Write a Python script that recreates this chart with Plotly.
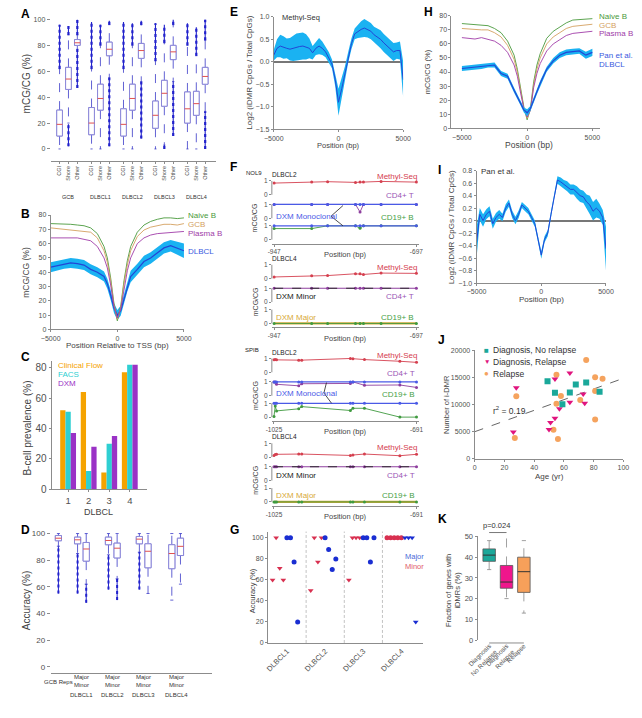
import plotly.graph_objects as go

W, H = 642, 718
FONT = "Liberation Sans, Arial, sans-serif"
TICK = "#505050"
AXC = "#8c8c8c"

# ================= DATA =================
# --- A: mCG/CG by region (box summaries) ---
A_groups = ["GCB", "DLBCL1", "DLBCL2", "DLBCL3", "DLBCL4"]
A_regions = ["CGI", "Shore", "Other"]
A_q1 = [10, 46, 80, 11, 30, 72, 10, 30, 70, 16, 33, 69, 20, 26, 50]
A_med = [19, 54, 82, 20, 39, 77, 19, 39, 76, 26, 43, 75, 31, 35, 56]
A_q3 = [30, 63, 84.5, 32, 50, 82.5, 31, 50, 81.5, 37, 53, 80, 44, 44.5, 63]
A_lo = [0, 20, 77, 0, 0, 55, 0, 0, 52, 0, 3, 52, 0, 0, 29]
A_hi = [62, 88, 88, 62, 80, 96, 62, 80, 96, 68, 82, 96, 80, 72, 84]
A_out_lo_min = [None, 2, 47, None, None, 2, None, None, 8, None, 0, 10, None, None, 0]
A_out_lo_max = [None, 19, 77, None, None, 55, None, None, 52, None, 3, 52, None, None, 29]
A_out_hi_min = [62, 88, 88, 62, 80, 96, 62, 80, 96, 68, 82, 96, 80, 72, 84]
A_out_hi_max = [96, 95, 100, 98, 96, 99, 98, 97, 99, 97, 96, 100, 97, 94, 100]

# --- B: metaplot around TSS ---
B_pos = [-5000, -4500, -4000, -3500, -3000, -2500, -2000, -1500, -1000, -750, -500, -250, 0,
         250, 500, 750, 1000, 1500, 2000, 2500, 3000, 3500, 4000, 4500, 5000]
B_naive = [74, 74, 73.5, 73.5, 73, 72.5, 71, 67, 58, 50, 36, 18, 6, 16, 34, 48, 58, 68, 73, 75.5, 77, 78, 78, 77.5, 78]
B_gcb = [71, 70.5, 70.5, 70, 69.5, 69, 68, 64, 55, 47, 34, 17, 7, 15, 32, 45, 55, 65, 69.5, 71.5, 72.5, 73.5, 73.5, 73, 74]
B_plasma = [64, 64, 63.5, 64, 64, 63, 62, 58, 50, 43, 31, 16, 8, 14, 29, 41, 50, 60, 64, 66, 67, 67.5, 68, 68, 68.5]
B_dlbcl = [43.5, 44.5, 46, 46.5, 46, 45, 42, 40, 37, 32, 24, 15, 10, 13, 21, 30, 37, 42, 47.5, 50, 53.5, 57, 58.5, 57, 55]
B_err = [3.5, 3.5, 3.5, 3.5, 3.5, 3.5, 3.5, 3.5, 3.5, 3.5, 3.5, 3.5, 3.5, 3.5, 3.5, 3.5, 4, 4, 4, 4, 4, 4, 4, 4.5, 5]

# --- C: B-cell prevalence ---
C_cats = [1, 2, 3, 4]
C_clinical = [52, 64, 11, 77]
C_facs = [51, 12, 30, 82]
C_dxm = [37, 28, 35, 82]

# --- D: accuracy boxes ---
D_labels = ["GCB Reps", "DLBCL1", "DLBCL2", "DLBCL3", "DLBCL4"]
D_q1 = [94.6, 92.3, 79.3, 91.6, 81.7, 92.3, 74.3, 73.6, 83.5]
D_med = [96.5, 95.3, 88.4, 94.8, 89, 95.8, 86.7, 85, 90.4]
D_q3 = [98.5, 97.3, 93.3, 97.3, 92.8, 97.8, 92.3, 91.6, 96.5]
D_lo = [90.5, 85, 62, 84, 66, 86, 55, 50, 62]
D_hi = [100, 100, 100, 100, 100, 100, 100, 100, 100]
D_out_min = [55, 55, 48, 58, 50, 58, None, None, None]
D_out_max = [90.5, 85, 62, 84, 66, 86, None, None, None]

# --- E: Methyl-Seq iDMR enrichment ---
E_pos = [-5000 + 250 * i for i in range(41)]
E_mean = [0.15, 0.30, 0.35, 0.32, 0.30, 0.28, 0.30, 0.33, 0.34, 0.35, 0.33, 0.30, 0.20, 0.30, 0.35, 0.30,
          0.22, 0.10, -0.05, -0.40, -0.90, -0.60, -0.25, 0.10, 0.40, 0.62, 0.68, 0.72, 0.75, 0.72, 0.68,
          0.60, 0.55, 0.50, 0.42, 0.35, 0.28, 0.22, 0.25, 0.25, -0.40]
E_err = [0.12, 0.20, 0.25, 0.25, 0.22, 0.25, 0.28, 0.30, 0.30, 0.30, 0.28, 0.22, 0.15, 0.15, 0.18, 0.15,
         0.12, 0.12, 0.10, 0.15, 0.30, 0.25, 0.15, 0.12, 0.12, 0.12, 0.15, 0.18, 0.20, 0.18, 0.18, 0.18,
         0.18, 0.20, 0.20, 0.20, 0.20, 0.20, 0.18, 0.20, 0.40]

# --- F: locus-level methylation ---
F_nol9_pos = [-947, -881, -853, -804, -796, -790, -759, -697]
F1_methyl = [0.85, 0.92, 0.95, 0.90, 0.92, 0.92, 0.97, 0.92]
F1_cd4 = [1, 1, 1, 1, 0.45, 1, 1, 1]
F1_cd19 = [0.8, 0.8, 1, 1, 0.82, 1, 1, 1]
F1_dxm = [1, 1, 1, 1, 1, 1, 1, 1]
F2_methyl = [0.12, 0.20, 0.22, 0.35, 0.35, 0.30, 0.40, 0.38]
F2_cd4 = [1, 1, 1, 1, 1, 1, 1, 1]
F2_cd19 = [0, 0, 0, 0, 0, 0, 0, 0]
F2_minor = [1, 1, 1, 1, 1, 1, 1, 1]
F2_major = [0, 0, 0, 0, 0, 0, 0, 0]
F_spib_pos = [-1025, -1022, -1019, -967, -960, -846, -840, -813, -730, -691]
F3_methyl = [0.9, 0.92, 0.9, 0.88, 0.88, 1.0, 0.98, 0.92, 0.8, 0.72]
F3_cd4 = [1, 1, 0.83, 0.72, 0.87, 0.89, 1, 0.76, 0.78, 0.6]
F3_cd19 = [0.05, 0.8, 0.45, 0.6, 0.76, 0.48, 0.64, 0.64, 0, 0]
F3_dxm = [1, 1, 1, 1, 1, 1, 1, 1, 1, 1]
F4_methyl = [0.12, 0.18, 0.2, 0.22, 0.22, 0.12, 0.15, 0.22, 0.1, 0.2]
F4_cd4 = [1, 1, 1, 1, 1, 1, 1, 1, 1, 1]
F4_cd19 = [0, 0, 0, 0, 0, 0, 0, 0, 0, 0]
F4_minor = [1, 1, 1, 1, 1, 1, 1, 1, 1, 1]
F4_major = [0, 0, 0, 0, 0, 0, 0, 0, 0, 0]

# --- G: accuracy per clone ---
G_groups = ["DLBCL1", "DLBCL2", "DLBCL3", "DLBCL4"]
G_group = [0] * 8 + [1] * 8 + [2] * 8 + [3] * 9
G_slot = [0, 1, 2, 3, 4, 5, 6, 7] * 3 + [0, 1, 2, 3, 4, 5, 6, 7, 8]
G_acc = [60, 100, 71, 60, 100, 100, 77, 20,
         50, 100, 77, 100, 100, 89, 70, 80,
         60, 100, 100, 100, 100, 100, 77, 100,
         100, 100, 100, 100, 100, 100, 100, 100, 20]
G_class = (["Minor"] * 4 + ["Major"] * 4) * 3 + ["Minor"] * 5 + ["Major"] * 4
G_shape = (["tri"] * 4 + ["dot"] * 4) * 3 + ["dot"] * 5 + ["tri"] * 4

# --- H: Pan et al. metaplot ---
H_pos = B_pos
H_naive = [74.5, 74, 74, 73.5, 73, 71, 68, 62, 52, 42, 29, 15, 6, 14, 33, 45, 53, 64, 69, 72, 75, 77, 77.5, 77.5, 78]
H_gcb = [71, 70.5, 70.5, 70, 70, 68, 65, 59, 49, 40, 27, 14, 7, 13, 31, 42, 50, 60, 65, 68, 71, 72.5, 73, 73.5, 74]
H_plasma = [64.5, 64, 63.5, 64.5, 63.5, 62, 59, 54, 45, 37, 25, 14, 8, 13, 29, 39, 46, 55, 60, 63, 66, 67.5, 68, 68.5, 69]
H_pan = [42.5, 43, 43.5, 44, 45, 45, 39, 37, 27, 22, 18, 13, 11, 14, 20, 26, 32, 42, 48, 52, 54, 54.5, 55, 52, 54]
H_err = [1.8, 1.8, 1.8, 1.8, 1.8, 1.8, 1.8, 1.8, 1.8, 1.8, 1.8, 1.8, 2.5, 1.8, 1.8, 1.8, 1.8, 1.8, 2, 2, 2, 2, 2, 2.5, 2.5]

# --- I: Pan et al. iDMR enrichment ---
I_pos = E_pos
I_mean = [-0.35, 0.10, 0.00, 0.10, 0.15, -0.05, 0.05, 0.10, 0.05, 0.20, 0.28, 0.10, 0.00, 0.10, 0.25, 0.20,
          0.15, 0.05, -0.05, -0.30, -0.55, -0.30, -0.20, 0.10, 0.40, 0.65, 0.62, 0.58, 0.55, 0.50, 0.50,
          0.45, 0.40, 0.38, 0.30, 0.25, 0.15, 0.20, 0.15, 0.05, -0.45]
I_err = [0.25, 0.1, 0.1, 0.08, 0.08, 0.08, 0.07, 0.07, 0.06, 0.06, 0.06, 0.06, 0.06, 0.06, 0.05, 0.05,
         0.05, 0.05, 0.05, 0.05, 0.06, 0.05, 0.05, 0.05, 0.05, 0.06, 0.07, 0.07, 0.08, 0.08, 0.08,
         0.1, 0.1, 0.1, 0.12, 0.15, 0.15, 0.15, 0.12, 0.12, 0.35]

# --- J: iDMR count vs age ---
J_nr_age = [49, 54, 59, 64, 68, 75, 84]
J_nr_n = [14250, 12140, 10030, 12200, 13650, 14010, 12320]
J_dr_age = [26, 28, 50, 51, 54, 54, 57, 64, 64, 73, 74]
J_dr_n = [4890, 13050, 5380, 6640, 7430, 14680, 9180, 15760, 10390, 11900, 10210]
J_r_age = [27, 28, 53, 55, 55, 56, 58, 71, 75, 81, 81, 81, 86]
J_r_n = [3800, 11480, 5320, 15460, 10090, 3620, 11540, 10810, 18180, 14980, 12440, 7190, 14740]
J_fit = [4950, 98.5]  # intercept, slope
J_r2 = 0.19
J_yticks = [0, 5000, 10000, 15000, 20000]

# --- K: fraction of genes with iDMRs ---
K_cats = ["Diagnosis<br>No Relapse", "Diagnosis<br>Relapse", "Relapse"]
K_q1 = [38, 25, 23]
K_med = [41, 28, 33]
K_q3 = [44, 36, 40]
K_lo = [34, 20, 13]
K_hi = [48, 52, 48]
K_p = "p=0.024"

# ================= HELPERS =================
traces = []
ann = []
shapes = []
axes = {}


def ax_common():
    return dict(showgrid=False, zeroline=False, linecolor=AXC, linewidth=1,
                tickfont=dict(size=7, color=TICK, family=FONT), ticks="outside",
                ticklen=2, tickcolor=AXC, showline=True, fixedrange=True)


def set_axes(n, xpx, ypx, xr, yr, xkw=None, ykw=None):
    sx = "" if n == 1 else str(n)
    xa = ax_common()
    xa.update(domain=[xpx[0] / W, xpx[1] / W], range=xr, anchor="y" + sx)
    ya = ax_common()
    ya.update(domain=[1 - ypx[1] / H, 1 - ypx[0] / H], range=yr, anchor="x" + sx)
    if xkw:
        xa.update(xkw)
    if ykw:
        ya.update(ykw)
    axes["xaxis" + sx] = xa
    axes["yaxis" + sx] = ya
    return "x" + sx, "y" + sx


def T(x, y, s, size=8, color="#333333", xa="left", ya="middle", angle=0, bold=False,
      xref="paper", yref="paper"):
    if xref == "paper":
        x = x / W
    if yref == "paper":
        y = 1 - y / H
    ann.append(dict(x=x, y=y, xref=xref, yref=yref, text=("<b>%s</b>" % s) if bold else s,
                    showarrow=False, xanchor=xa, yanchor=ya, textangle=angle,
                    font=dict(size=size, color=color, family=FONT)))


def line(xa, ya, x, y, color, width=1, dash="solid", mode="lines", msize=3, symbol="circle", fill=None,
         fillcolor=None):
    traces.append(go.Scatter(x=x, y=y, xaxis=xa, yaxis=ya, mode=mode,
                             line=dict(color=color, width=width, dash=dash),
                             marker=dict(size=msize, color=color, symbol=symbol),
                             fill=fill, fillcolor=fillcolor, hoverinfo="skip", showlegend=False))


def band(xa, ya, pos, mean, err, fillc, linec, lw=1):
    up = [m + e for m, e in zip(mean, err)]
    dn = [m - e for m, e in zip(mean, err)]
    traces.append(go.Scatter(x=list(pos) + list(pos)[::-1], y=up + dn[::-1], xaxis=xa, yaxis=ya,
                             mode="lines", line=dict(width=0, color=fillc), fill="toself",
                             fillcolor=fillc, hoverinfo="skip", showlegend=False))
    line(xa, ya, pos, mean, linec, lw)


def boxes(xa, ya, pos, q1, med, q3, lo, hi, hw, cap, box_c, med_c, wh_c, fillc="white", bw=1):
    bx, by, mx, my, wx, wy, cx, cy = [], [], [], [], [], [], [], []
    for p, a, m, b, l, h in zip(pos, q1, med, q3, lo, hi):
        bx += [p - hw, p + hw, p + hw, p - hw, p - hw, None]
        by += [a, a, b, b, a, None]
        mx += [p - hw, p + hw, None]
        my += [m, m, None]
        wx += [p, p, None, p, p, None]
        wy += [b, h, None, a, l, None]
        cx += [p - cap, p + cap, None, p - cap, p + cap, None]
        cy += [h, h, None, l, l, None]
    line(xa, ya, wx, wy, wh_c, 0.8, "dash")
    line(xa, ya, cx, cy, wh_c, 0.8)
    line(xa, ya, bx, by, box_c, bw, fill="toself", fillcolor=fillc)
    line(xa, ya, mx, my, med_c, 1)


def outliers(xa, ya, pos, omin, omax, color, width=2.2):
    ox, oy = [], []
    for p, a, b in zip(pos, omin, omax):
        if a is None:
            continue
        ox += [p, p, None]
        oy += [a, b, None]
    line(xa, ya, ox, oy, color, width, "dot")
    line(xa, ya, ox, oy, color, width * 0.5)


LETTER = 12
# ================= PANEL A =================
A_pos = [g * 3.6 + r for g in range(len(A_groups)) for r in range(len(A_regions))]
xa, ya = set_axes(1, (38, 209), (15.7, 159), [-1, 17.6], [-9.14, 100],
                  dict(tickvals=A_pos, ticktext=A_regions * len(A_groups), tickangle=-90,
                       tickfont=dict(size=5.5, color=TICK, family=FONT), ticklen=2),
                  dict(showline=False, tickvals=[0, 20, 40, 60, 80, 100], ticklen=3))
boxes(xa, ya, A_pos, A_q1, A_med, A_q3, A_lo, A_hi, 0.32, 0.12, "#8a86d8", "#e05050", "#3a3ac8")
outliers(xa, ya, A_pos, A_out_lo_min, A_out_lo_max, "#2222cc")
outliers(xa, ya, A_pos, A_out_hi_min, A_out_hi_max, "#2222cc")
boxes(xa, ya, A_pos, A_q1, A_med, A_q3, A_q1, A_q3, 0.32, 0.0, "#8a86d8", "#e05050", "#8a86d8")
for g, name in enumerate(A_groups):
    T(g * 3.6 + 1, 196, name, 5.5, "#333", "center", xref=xa)
T(5, 10, "A", LETTER, "black", bold=True)
T(13, 81, "mCG/CG (%)", 10, "#444", "center", "middle", -90)

# ================= PANEL B =================
xa, ya = set_axes(2, (38, 176), (214, 330), [-5000, 5000], [0, 80],
                  dict(tickvals=[-5000, 0, 5000]),
                  dict(tickvals=list(range(0, 81, 10))))
band(xa, ya, B_pos, B_dlbcl, B_err, "#1ab2f2", "#2346d6", 1.2)
line(xa, ya, B_pos, B_naive, "#4a9a3c", 0.9)
line(xa, ya, B_pos, B_gcb, "#d4a060", 0.9)
line(xa, ya, B_pos, B_plasma, "#a03ca8", 0.9)
T(178, 214, "Naive B", 8, "#4a9a3c")
T(178, 224, "GCB", 8, "#d4a060")
T(178, 233, "Plasma B", 8, "#a03ca8")
T(178, 251, "DLBCL", 8, "#3a5ae0")
T(5, 213, "B", LETTER, "black", bold=True)
T(13, 272, "mCG/CG (%)", 8.5, "#444", "center", "middle", -90)
T(107, 346, "Position Relative to TSS (bp)", 8, "#444", "center")

# ================= PANEL C =================
xa, ya = set_axes(3, (39, 138), (362, 492), [0.2, 4.85], [0, 84.5],
                  dict(tickvals=C_cats, tickfont=dict(size=9.5, color=TICK, family=FONT)),
                  dict(tickvals=[0, 20, 40, 60, 80], tickfont=dict(size=10, color=TICK, family=FONT)))
for vals, col in [(C_clinical, "#f5a300"), (C_facs, "#2ecfd2"), (C_dxm, "#9a32c6")]:
    traces.append(go.Bar(x=C_cats, y=vals, xaxis=xa, yaxis=ya, marker=dict(color=col, line=dict(width=0)),
                         hoverinfo="skip", showlegend=False))
T(44, 367, "Clinical Flow", 8, "#f5a300")
T(44, 376, "FACS", 8, "#2ecfd2")
T(44, 385, "DXM", 8, "#9a32c6")
T(5, 358, "C", LETTER, "black", bold=True)
T(13, 430, "B-cell prevalence (%)", 10, "#444", "center", "middle", -90)
T(88, 515, "DLBCL", 9, "#444", "center")

# ================= PANEL D =================
D_centers = [1.44, 2.2, 3.2, 4.2, 5.25]
D_pos = [D_centers[0]] + [c + d for c in D_centers[1:] for d in (-0.14, 0.14)]
xa, ya = set_axes(4, (38, 205), (535, 678), [1.19, 6.41], [-4.4, 101.5],
                  dict(showticklabels=False, ticks=""),
                  dict(showline=False, tickvals=[0, 20, 40, 60, 80, 100], ticklen=3,
                       tickfont=dict(size=8, color=TICK, family=FONT)))
boxes(xa, ya, D_pos, D_q1, D_med, D_q3, D_lo, D_hi, 0.1, 0.05, "#8a86d8", "#e05050", "#3a3ac8")
outliers(xa, ya, D_pos, D_out_min, D_out_max, "#2222cc", 2)
boxes(xa, ya, D_pos, D_q1, D_med, D_q3, D_q1, D_q3, 0.1, 0.0, "#8a86d8", "#e05050", "#8a86d8")
T(D_centers[0], 688, D_labels[0], 6, "#333", "center", xref=xa)
for c, name in zip(D_centers[1:], D_labels[1:]):
    T(c, 687, "Major<br>Minor", 6, "#333", "center", xref=xa)
    T(c, 701, name, 6, "#333", "center", xref=xa)
T(5, 533, "D", LETTER, "black", bold=True)
T(13, 605, "Accuracy (%)", 10, "#444", "center", "middle", -90)

# ================= PANEL E =================
xa, ya = set_axes(5, (269, 403), (13, 127), [-5000, 5000], [-1.5, 1.0],
                  dict(tickvals=[-5000, 0, 5000]),
                  dict(tickvals=[-1.5, -1.0, -0.5, 0, 0.5, 1.0], tickformat=".1f",
                       zeroline=True, zerolinecolor="#777", zerolinewidth=1.5))
band(xa, ya, E_pos, E_mean, E_err, "#1ab2f2", "#2346d6", 1.0)
T(275, 14, "Methyl-Seq", 7.5, "#333")
T(222, 8, "E", LETTER, "black", bold=True)
T(243, 70, "Log2 (iDMR CpGs / Total CpGs)", 8, "#444", "center", "middle", -90)
T(336, 144, "Position (bp)", 7.5, "#444", "center")

# ================= PANEL F =================
F_OFF = [3.25, 1.55, 0.0]
RED, PUR, GRN, BLU, GOLD = "#d5404f", "#8e3f9e", "#3f9a3f", "#4a5ae6", "#d8a93a"


def f_panel(n, base, pos, xr, methyl, cd4, cd19, mode, dxm_a, dxm_b, title, mlab_px):
    xa, ya = set_axes(n, (267, 419), (base - 63, base + 4), xr, [-0.29, 4.5],
                      dict(tickvals=[pos[0], pos[-1]], ticktext=[str(pos[0]), str(pos[-1])],
                           tickfont=dict(size=6.5, color=TICK, family=FONT), ticklen=2),
                      dict(showline=False, tickvals=[0, 1, F_OFF[1], F_OFF[1] + 1, F_OFF[0], F_OFF[0] + 1],
                           ticktext=["0", "1", "0", "1", "0", "1"], ticklen=2,
                           tickfont=dict(size=6.5, color=TICK, family=FONT)))
    for o in F_OFF:
        shapes.append(dict(type="line", xref=xa + " domain", yref=ya, x0=0, x1=0, y0=o, y1=o + 1,
                           line=dict(color=AXC, width=1)))
    line(xa, ya, pos, [v + F_OFF[0] for v in methyl], RED, 0.9, mode="lines+markers")
    if mode == "mono":
        line(xa, ya, pos, [v + F_OFF[1] for v in cd4], PUR, 0.9, mode="lines+markers")
        line(xa, ya, pos, [v + F_OFF[2] for v in cd19], GRN, 0.9, mode="lines+markers")
        line(xa, ya, pos, [v + F_OFF[1] for v in dxm_a], BLU, 1.3, mode="lines+markers")
        line(xa, ya, pos, [v + F_OFF[2] for v in dxm_a], BLU, 1.3, mode="lines+markers")
    else:
        line(xa, ya, pos, [v + F_OFF[1] for v in cd4], PUR, 1.2, mode="lines+markers")
        line(xa, ya, pos, [v + F_OFF[1] for v in dxm_a], "#222222", 0.9, "dash")
        line(xa, ya, pos, [v + F_OFF[2] for v in dxm_b], GOLD, 2.2)
        line(xa, ya, pos, [v + F_OFF[2] for v in cd19], GRN, 0.9, mode="lines+markers")
    T(419, mlab_px, "Methyl-Seq", 8, RED, "right", "middle")
    if mode == "mono":
        T(pos[-1], F_OFF[1] + 1.15, "CD4+ T", 8, "#9a55b5", "right", "bottom", xref=xa, yref=ya)
        T(pos[-1], F_OFF[2] + 1.15, "CD19+ B", 8, "#46a046", "right", "bottom", xref=xa, yref=ya)
        T(pos[0], F_OFF[1] + 0.15, "DXM Monoclonal", 8, BLU, "left", "middle", xref=xa, yref=ya)
    else:
        T(pos[-1], F_OFF[1] + 0.4, "CD4+ T", 8, "#9a55b5", "right", "middle", xref=xa, yref=ya)
        T(pos[-1], F_OFF[2] + 0.45, "CD19+ B", 8, "#46a046", "right", "middle", xref=xa, yref=ya)
        T(pos[0], F_OFF[1] + 0.4, "DXM Minor", 8, "#222", "left", "middle", xref=xa, yref=ya)
        T(pos[0], F_OFF[2] + 0.45, "DXM Major", 8, GOLD, "left", "middle", xref=xa, yref=ya)
    T(265, base - 66, title, 6.5, "#222", "left", "middle")
    T(343, base + 15, "Position (bp)", 7.5, "#444", "center")
    T(250, base - 22, "mCG/CG", 7, "#444", "center", "middle", -90)
    return xa, ya


xa, ya = f_panel(6, 239, F_nol9_pos, [-951, -693], F1_methyl, F1_cd4, F1_cd19, "mono", F1_dxm, None,
                 "DLBCL2", 175)
shapes.append(dict(type="line", xref=xa, yref=ya, x0=-847, x1=-826, y0=F_OFF[1] + 0.15, y1=F_OFF[1] + 0.92,
                   line=dict(color="#222", width=0.8)))
shapes.append(dict(type="line", xref=xa, yref=ya, x0=-847, x1=-826, y0=F_OFF[1] + 0.15, y1=1.0,
                   line=dict(color="#222", width=0.8)))
T(238, 171, "NOL9", 6, "#222")
f_panel(7, 324, F_nol9_pos, [-951, -693], F2_methyl, F2_cd4, F2_cd19, "dxm", F2_minor, F2_major,
        "DLBCL4", 267)
xa, ya = f_panel(8, 419, F_spib_pos, [-1030, -686], F3_methyl, F3_cd4, F3_cd19, "mono", F3_dxm, None,
                 "DLBCL2", 356)
shapes.append(dict(type="line", xref=xa, yref=ya, x0=-908, x1=-902, y0=F_OFF[1] + 0.2, y1=F_OFF[1] + 0.95,
                   line=dict(color="#222", width=0.8)))
shapes.append(dict(type="line", xref=xa, yref=ya, x0=-908, x1=-890, y0=F_OFF[1] + 0.2, y1=1.0,
                   line=dict(color="#222", width=0.8)))
T(237, 351, "SPIB", 6, "#222")
f_panel(9, 505, F_spib_pos, [-1030, -686], F4_methyl, F4_cd4, F4_cd19, "dxm", F4_minor, F4_major,
        "DLBCL4", 450)
T(222, 165, "F", LETTER, "black", bold=True)

# ================= PANEL G =================
xa, ya = set_axes(10, (263, 423), (535, 648), [0, 4.05], [0, 106],
                  dict(tickvals=[0.5, 1.5, 2.5, 3.5], ticktext=G_groups, tickangle=-45, ticks="",
                       tickfont=dict(size=7.5, color=TICK, family=FONT)),
                  dict(tickvals=[0, 20, 40, 60, 80, 100]))
for k in (1, 2, 3):
    shapes.append(dict(type="line", xref=xa, yref=ya + " domain", x0=k, x1=k, y0=0, y1=1,
                       line=dict(color="#b4b4b4", width=0.8, dash="3px,2px")))
G_x = [g + 0.12 + 0.094 * s for g, s in zip(G_group, G_slot)]
for cls, col in [("Minor", "#d83050"), ("Major", "#1a2ed2")]:
    for shp, sym in [("tri", "triangle-down"), ("dot", "circle")]:
        xs = [x for x, c, s in zip(G_x, G_class, G_shape) if c == cls and s == shp]
        ys = [v for v, c, s in zip(G_acc, G_class, G_shape) if c == cls and s == shp]
        if xs:
            line(xa, ya, xs, ys, col, mode="markers", msize=5, symbol=sym)
T(403, 560, "Major", 7.5, "#4a6ad8")
T(403, 570, "Minor", 7.5, "#e05a6a")
T(222, 533, "G", LETTER, "black", bold=True)
T(247, 595, "Accuracy (%)", 7.5, "#444", "center", "middle", -90)

# ================= PANEL H =================
xa, ya = set_axes(11, (453, 607), (12, 126), [-5800, 5600], [0, 80],
                  dict(tickvals=[-5000, 0, 5000]),
                  dict(tickvals=list(range(0, 81, 10))))
line(xa, ya, H_pos, H_naive, "#4a9a3c", 0.9)
line(xa, ya, H_pos, H_gcb, "#d4a060", 0.9)
line(xa, ya, H_pos, H_plasma, "#a03ca8", 0.9)
band(xa, ya, H_pos, H_pan, H_err, "#1ab2f2", "#2346d6", 1.2)
T(604, 13, "Naive B", 8, "#4a9a3c")
T(604, 21.5, "GCB", 8, "#d4a060")
T(604, 30, "Plasma B", 8, "#a03ca8")
T(604, 52, "Pan et al.", 8, "#3a5ae0")
T(604, 61, "DLBCL", 8, "#3a5ae0")
T(422, 8, "H", LETTER, "black", bold=True)
T(428, 69, "mCG/CG (%)", 7.5, "#444", "center", "middle", -90)
T(533, 143, "Position (bp)", 8.5, "#444", "center")

# ================= PANEL I =================
xa, ya = set_axes(12, (479, 613), (169, 283), [-5000, 5000], [-1.0, 0.8],
                  dict(tickvals=[-5000, 0, 5000]),
                  dict(tickvals=[-1.0, -0.8, -0.6, -0.4, -0.2, 0, 0.2, 0.4, 0.6, 0.8], tickformat=".1f",
                       zeroline=True, zerolinecolor="#777", zerolinewidth=1.5))
band(xa, ya, I_pos, I_mean, I_err, "#1ab2f2", "#2346d6", 1.0)
T(482, 170, "Pan et al.", 8, "#333")
T(437, 168, "I", LETTER, "black", bold=True)
T(453, 226, "Log2 (iDMR CpGs / Total CpGs)", 8, "#444", "center", "middle", -90)
T(546, 300, "Position (bp)", 8, "#444", "center")

# ================= PANEL J =================
xa, ya = set_axes(13, (477, 631), (351, 461), [0, 100], [0, 20000],
                  dict(tickvals=[0, 20, 40, 60, 80, 100]),
                  dict(tickvals=J_yticks, ticktext=[str(v) for v in J_yticks]))
fit_x = [0, 100]
fit_y = [J_fit[0] + J_fit[1] * v for v in fit_x]
line(xa, ya, fit_x, fit_y, "#666", 1, "dash")
line(xa, ya, J_r_age, J_r_n, "#f5a35e", mode="markers", msize=6, symbol="circle")
line(xa, ya, J_dr_age, J_dr_n, "#e0147e", mode="markers", msize=6, symbol="triangle-down")
line(xa, ya, J_nr_age, J_nr_n, "#1aa89a", mode="markers", msize=6, symbol="square")
T(485, 351, "■", 8, "#1aa89a")
T(494, 351, "Diagnosis, No relapse", 8.5, "#333")
T(485, 363, "▼", 6.5, "#e0147e")
T(494, 363, "Diagnosis, Relapse", 8.5, "#333")
T(485, 375, "●", 8, "#f5a35e")
T(494, 375, "Relapse", 8.5, "#333")
T(494, 412, "r<sup>2</sup> = %.2f" % J_r2, 8.5, "#333")
T(437, 341, "J", LETTER, "black", bold=True)
T(448, 406, "Number of i-DMR", 7.5, "#444", "center", "middle", -90)
T(554, 479, "Age (yr)", 8, "#444", "center")

# ================= PANEL K =================
K_pos = [0, 1, 2]
xa, ya = set_axes(14, (480, 540), (540, 645), [-0.67, 2.67], [0, 50],
                  dict(showline=False, tickvals=K_pos, ticktext=K_cats, tickangle=-45, ticks="",
                       tickfont=dict(size=6.5, color=TICK, family=FONT)),
                  dict(tickvals=[0, 10, 20, 30, 40, 50], tickfont=dict(size=7.5, color=TICK, family=FONT)))
for i, col in enumerate(["#1aa89a", "#f0168c", "#f7a05a"]):
    boxes(xa, ya, [K_pos[i]], [K_q1[i]], [K_med[i]], [K_q3[i]], [K_lo[i]], [K_hi[i]], 0.36, 0.12,
          "#555", "#333", "#888", fillc=col, bw=0.8)
shapes.append(dict(type="line", xref=xa, yref="paper", x0=0, x1=2, y0=1 - 648 / H, y1=1 - 648 / H,
                   line=dict(color=AXC, width=1)))
shapes.append(dict(type="line", xref=xa, yref="paper", x0=0, x1=1, y0=1 - 536 / H, y1=1 - 536 / H,
                   line=dict(color="#555", width=0.8)))
T(500, 529, K_p, 7.5, "#333", "center", "middle")
T(437, 522, "K", LETTER, "black", bold=True)
T(455, 595, "Fraction of genes with<br>iDMRs (%)", 7.5, "#444", "center", "middle", -90)

# ================= FIGURE =================
fig = go.Figure(data=traces)
fig.update_layout(width=W, height=H, margin=dict(l=0, r=0, t=0, b=0), paper_bgcolor="white",
                  plot_bgcolor="white", showlegend=False, barmode="group", bargap=0.23, bargroupgap=0,
                  font=dict(family=FONT, color="#333"), annotations=ann, shapes=shapes, **axes)
fig.write_html("out.html", config={"displayModeBar": False},
               post_script="document.body.style.margin='0';document.body.style.overflow='hidden';")
